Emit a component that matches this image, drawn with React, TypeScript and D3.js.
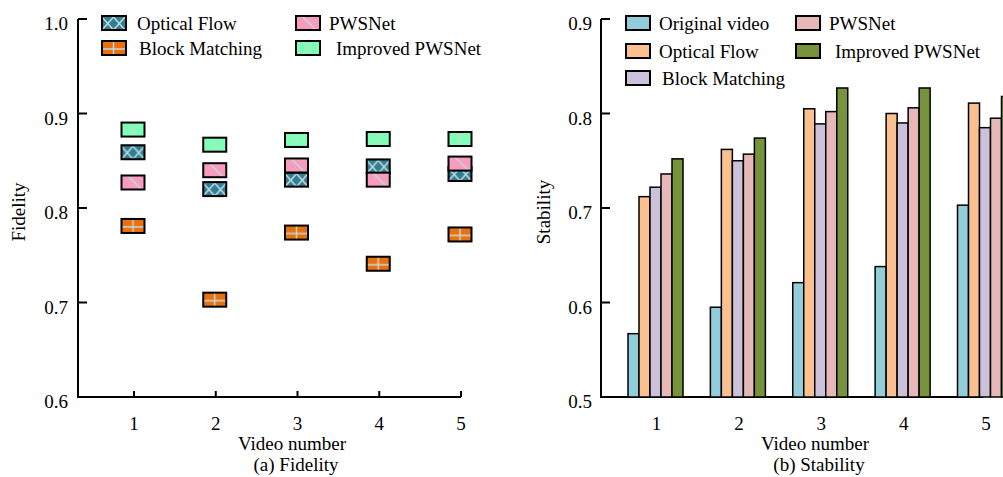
import * as d3 from 'd3'

// ---- data ----
const videos = ['1', '2', '3', '4', '5']

const fidelityMethods = ['Optical Flow', 'Block Matching', 'PWSNet', 'Improved PWSNet']
const fidelityOpticalFlow = [0.859, 0.820, 0.830, 0.844, 0.836]
const fidelityBlockMatching = [0.781, 0.703, 0.774, 0.741, 0.772]
const fidelityPWSNet = [0.827, 0.840, 0.845, 0.830, 0.847]
const fidelityImproved = [0.883, 0.867, 0.872, 0.873, 0.873]
const fidelityTicks = [0.6, 0.7, 0.8, 0.9, 1.0]

const stabilityMethods = ['Original video', 'Optical Flow', 'Block Matching', 'PWSNet', 'Improved PWSNet']
const stabilityOriginal = [0.567, 0.595, 0.621, 0.638, 0.703]
const stabilityOpticalFlow = [0.712, 0.762, 0.805, 0.800, 0.811]
const stabilityBlockMatching = [0.722, 0.750, 0.789, 0.790, 0.785]
const stabilityPWSNet = [0.736, 0.757, 0.802, 0.806, 0.795]
const stabilityImproved = [0.752, 0.774, 0.827, 0.827, 0.818]
const stabilityTicks = [0.5, 0.6, 0.7, 0.8, 0.9]

const fidelitySeries = [fidelityOpticalFlow, fidelityBlockMatching, fidelityPWSNet, fidelityImproved]
const stabilitySeries = [stabilityOriginal, stabilityOpticalFlow, stabilityBlockMatching, stabilityPWSNet, stabilityImproved]

const markerFill = ['#2e7f96', '#e8700e', '#f79cbf', '#80ffb6']
const barFill = ['#92cddc', '#fac090', '#ccc1da', '#e6b9b8', '#77933c']

const FONT = '"Liberation Serif", "Times New Roman", serif'
const FS = 19
const HATCH = '#c6d8d8'

const MW = 23
const MH = 14

function Hatch({ i }: { i: number }) {
  // one pattern tile per marker, anchored at the marker's box
  const line = (x1: number, y1: number, x2: number, y2: number, k: number) => (
    <line key={k} x1={x1} y1={y1} x2={x2} y2={y2} stroke={HATCH} strokeWidth={1.5} />
  )
  let lines: any[] = []
  if (i === 0) lines = [line(0, 1, MW / 2, MH, 0), line(MW / 2, MH, MW, 1, 1), line(0, MH, MW / 2, 1, 2), line(MW / 2, 1, MW, MH, 3)]
  if (i === 1) lines = [line(MW / 2, 0, MW / 2, MH, 0), line(0, 8, MW, 8, 1)]
  if (i === 2) lines = [line(6, 0, 20, MH, 0)]
  if (i === 3) lines = [line(MW / 2, 0, MW / 2, MH, 0)]
  return (
    <pattern id={`hatch${i}`} patternUnits="objectBoundingBox" x={0} y={0} width={1} height={1}>
      <rect width={MW + 2} height={MH + 2} fill={markerFill[i]} />
      {lines}
    </pattern>
  )
}

function FidelityChart() {
  const x = d3.scalePoint<string>().domain(videos).range([133, 460])
  const y = d3.scaleLinear().domain([0.6, 1.0]).range([397, 19])
  const x0 = 78
  const x1 = 461

  const legendPos = [
    { x: 102, y: 16 },
    { x: 102, y: 41 },
    { x: 296, y: 16 },
    { x: 296, y: 41 },
  ]
  const legendDx = [35, 37, 33, 40]

  return (
    <g>
      <defs>
        {fidelityMethods.map((_, i) => <Hatch key={i} i={i} />)}
      </defs>
      {/* axes */}
      <line x1={x0} y1={y(1.0)} x2={x0} y2={y(0.6)} stroke="#000" strokeWidth={2} />
      <line x1={x0 - 1} y1={y(0.6)} x2={x1} y2={y(0.6)} stroke="#000" strokeWidth={2} />
      {fidelityTicks.map(t => (
        <g key={t}>
          <line x1={x0} x2={x0 + 9} y1={y(t)} y2={y(t)} stroke="#000" strokeWidth={2} />
          <text x={68} y={y(t) + 11} textAnchor="end">{d3.format('.1f')(t)}</text>
        </g>
      ))}
      {videos.map(v => (
        <g key={v}>
          <line x1={x(v)! + 1} x2={x(v)! + 1} y1={y(0.6)} y2={y(0.6) - 6} stroke="#000" strokeWidth={2} />
          <text x={x(v)! + 1} y={430} textAnchor="middle">{v}</text>
        </g>
      ))}
      <text x={292} y={450} textAnchor="middle">Video number</text>
      <text x={296} y={471} textAnchor="middle">(a) Fidelity</text>
      <text transform={`translate(25,212) rotate(-90)`} textAnchor="middle">Fidelity</text>

      {/* markers */}
      {fidelitySeries.map((vals, i) => (
        <g key={i}>
          {vals.map((val, j) => (
            <rect key={j} x={x(videos[j])! - MW / 2} y={y(val) - MH / 2} width={MW} height={MH}
              fill={`url(#hatch${i})`} stroke="#000" strokeWidth={2} />
          ))}
        </g>
      ))}

      {/* legend */}
      {fidelityMethods.map((m, i) => (
        <g key={m}>
          <rect x={legendPos[i].x} y={legendPos[i].y} width={24} height={14}
            fill={`url(#hatch${i})`} stroke="#000" strokeWidth={2} />
          <text x={legendPos[i].x + legendDx[i]} y={legendPos[i].y + 14}>{m}</text>
        </g>
      ))}
    </g>
  )
}

function StabilityChart() {
  const x = d3.scalePoint<string>().domain(videos).range([655.5, 985])
  const inner = d3.scaleBand<string>().domain(stabilityMethods).range([-27.5, 27.5]).padding(0)
  const y = d3.scaleLinear().domain([0.5, 0.9]).range([397, 19])
  const x0 = 601
  const x1 = 983

  const legendPos = [
    { x: 626, y: 16 },
    { x: 626, y: 44 },
    { x: 626, y: 71 },
    { x: 796, y: 16 },
    { x: 796, y: 44 },
  ]
  const legendDx = [33, 33, 36, 33, 39]

  return (
    <g>
      <line x1={x0} y1={y(0.9)} x2={x0} y2={y(0.5)} stroke="#000" strokeWidth={2} />
      <line x1={x0 - 1} y1={y(0.5)} x2={x1} y2={y(0.5)} stroke="#000" strokeWidth={2} />
      {stabilityTicks.map(t => (
        <g key={t}>
          <line x1={x0} x2={x0 + 9} y1={y(t)} y2={y(t)} stroke="#000" strokeWidth={2} />
          <text x={592} y={y(t) + 11} textAnchor="end">{d3.format('.1f')(t)}</text>
        </g>
      ))}
      {videos.map(v => (
        <text key={v} x={x(v)! + 1} y={430} textAnchor="middle">{v}</text>
      ))}
      <text x={815} y={450} textAnchor="middle">Video number</text>
      <text x={819} y={471} textAnchor="middle">(b) Stability</text>
      <text transform={`translate(550,212) rotate(-90)`} textAnchor="middle">Stability</text>

      {stabilitySeries.map((vals, i) => (
        <g key={i}>
          {vals.map((val, j) => (
            <rect key={j}
              x={x(videos[j])! + inner(stabilityMethods[i])!}
              y={y(val)}
              width={inner.bandwidth()}
              height={y(0.5) - y(val)}
              fill={barFill[i]} stroke="#000" strokeWidth={1.5} />
          ))}
        </g>
      ))}

      {stabilityMethods.map((m, i) => (
        <g key={m}>
          <rect x={legendPos[i].x} y={legendPos[i].y} width={24} height={14}
            fill={barFill[i]} stroke="#000" strokeWidth={2} />
          <text x={legendPos[i].x + legendDx[i]} y={legendPos[i].y + 14}>{m}</text>
        </g>
      ))}
    </g>
  )
}

export default function App() {
  return (
    <svg width={1003} height={477}
      style={{ position: 'absolute', left: 0, top: 0, background: '#fff' }}
      fontFamily={FONT} fontSize={FS} fill="#000">
      <rect width={1003} height={477} fill="#fff" />
      <FidelityChart />
      <StabilityChart />
    </svg>
  )
}
